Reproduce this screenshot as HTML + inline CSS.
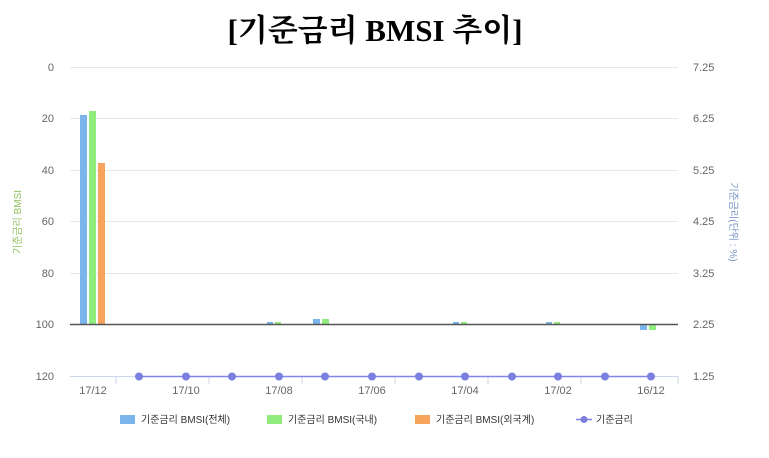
<!DOCTYPE html>
<html><head><meta charset="utf-8"><style>
body{margin:0;background:#fff;width:769px;height:453px;overflow:hidden}
svg text{font-family:"Liberation Sans","Noto Sans CJK KR",sans-serif}
</style></head><body>
<svg width="769" height="453" xmlns="http://www.w3.org/2000/svg">
<text x="375" y="41" text-anchor="middle" font-size="31" font-weight="bold" style="font-family:'Liberation Serif','Noto Serif CJK SC',serif">[기준금리 BMSI 추이]</text>
<g stroke="#e6e6e6" stroke-width="1">
<line x1="70" x2="678" y1="67.5" y2="67.5"/><line x1="70" x2="678" y1="118.5" y2="118.5"/>
<line x1="70" x2="678" y1="170.5" y2="170.5"/><line x1="70" x2="678" y1="221.5" y2="221.5"/>
<line x1="70" x2="678" y1="273.5" y2="273.5"/>
</g>
<line x1="70" x2="678" y1="376.5" y2="376.5" stroke="#ccd6eb"/>
<g stroke="#ccd6eb"><line x1="116" x2="116" y1="376" y2="384"/><line x1="209" x2="209" y1="376" y2="384"/><line x1="302" x2="302" y1="376" y2="384"/><line x1="395" x2="395" y1="376" y2="384"/><line x1="488" x2="488" y1="376" y2="384"/><line x1="581" x2="581" y1="376" y2="384"/><line x1="678" x2="678" y1="376" y2="384"/></g>
<g font-size="11" fill="#666" text-anchor="end">
<text x="54" y="71">0</text><text x="54" y="122">20</text><text x="54" y="174">40</text><text x="54" y="225">60</text><text x="54" y="277">80</text><text x="54" y="328">100</text><text x="54" y="380">120</text>
</g>
<g font-size="11" fill="#666">
<text x="693" y="71">7.25</text><text x="693" y="122">6.25</text><text x="693" y="174">5.25</text><text x="693" y="225">4.25</text><text x="693" y="277">3.25</text><text x="693" y="328">2.25</text><text x="693" y="380">1.25</text>
</g>
<text transform="translate(21,222) rotate(-90)" text-anchor="middle" font-size="10" fill="#90c060">기준금리 BMSI</text>
<text transform="translate(730,222) rotate(90)" text-anchor="middle" font-size="10" fill="#7090c0">기준금리(단위 : %)</text>
<g font-size="11" fill="#666" text-anchor="middle">
<text x="93" y="394">17/12</text><text x="186" y="394">17/10</text><text x="279" y="394">17/08</text><text x="372" y="394">17/06</text><text x="465" y="394">17/04</text><text x="558" y="394">17/02</text><text x="651" y="394">16/12</text>
</g>
<rect x="80" y="115" width="7" height="210" fill="#7cb5ec"/>
<rect x="89" y="111" width="7" height="214" fill="#90ed7d"/>
<rect x="98" y="163" width="7" height="162" fill="#f7a35c"/>
<g>
<rect x="267" y="322" width="6" height="2" fill="#7cb5ec"/><rect x="275" y="322" width="6" height="2" fill="#90ed7d"/>
<rect x="313" y="319" width="7" height="5" fill="#7cb5ec"/><rect x="322" y="319" width="7" height="5" fill="#90ed7d"/>
<rect x="453" y="322" width="6" height="2" fill="#7cb5ec"/><rect x="461" y="322" width="6" height="2" fill="#90ed7d"/>
<rect x="546" y="322" width="6" height="2" fill="#7cb5ec"/><rect x="554" y="322" width="6" height="2" fill="#90ed7d"/>
<rect x="640" y="325" width="7" height="5" fill="#7cb5ec"/><rect x="649" y="325" width="7" height="5" fill="#90ed7d"/>
</g>
<line x1="70" x2="678" y1="324.5" y2="324.5" stroke="#555" stroke-width="1.5"/>
<line x1="139" x2="651" y1="376.5" y2="376.5" stroke="#8085e9" stroke-width="1.5"/>
<g fill="#7b7fe0">
<circle cx="139" cy="376.5" r="4"/><circle cx="186" cy="376.5" r="4"/><circle cx="232" cy="376.5" r="4"/><circle cx="279" cy="376.5" r="4"/><circle cx="325" cy="376.5" r="4"/><circle cx="372" cy="376.5" r="4"/><circle cx="419" cy="376.5" r="4"/><circle cx="465" cy="376.5" r="4"/><circle cx="512" cy="376.5" r="4"/><circle cx="558" cy="376.5" r="4"/><circle cx="605" cy="376.5" r="4"/><circle cx="651" cy="376.5" r="4"/>
</g>
<g font-size="10" fill="#333">
<rect x="120" y="415" width="15" height="9" fill="#7cb5ec"/><text x="141" y="423">기준금리 BMSI(전체)</text>
<rect x="267" y="415" width="15" height="9" fill="#90ed7d"/><text x="288" y="423">기준금리 BMSI(국내)</text>
<rect x="415" y="415" width="15" height="9" fill="#f7a35c"/><text x="436" y="423">기준금리 BMSI(외국계)</text>
<line x1="576" x2="592" y1="419.5" y2="419.5" stroke="#8085e9" stroke-width="1.5"/><circle cx="584" cy="419.5" r="3.5" fill="#7b7fe0"/><text x="596" y="423">기준금리</text>
</g>
</svg>
</body></html>
